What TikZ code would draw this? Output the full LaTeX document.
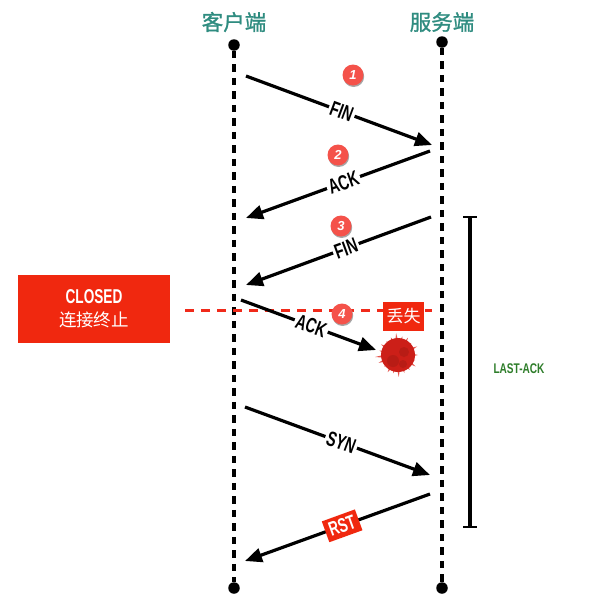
\documentclass[tikz,border=0pt]{standalone}
\usepackage{fontspec}
\usetikzlibrary{arrows.meta,shapes.geometric,calc}
\setmainfont{Liberation Sans}
\newfontfamily\cjkfont[FakeBold=1.2]{Noto Sans CJK SC}
\newfontfamily\cjkplain{Noto Sans CJK SC}
\newcommand{\cond}[3][0.68]{\scalebox{#1}[1]{\fontsize{#2}{#2}\selectfont\bfseries #3}}
\definecolor{tealtitle}{HTML}{2F8C80}
\definecolor{redbox}{HTML}{F0280F}
\definecolor{reddash}{HTML}{F02A1A}
\definecolor{badge}{HTML}{F4524A}
\definecolor{burst}{HTML}{CC1F18}
\definecolor{burstdark}{HTML}{B81C15}
\definecolor{burstedge}{HTML}{E4574F}
\definecolor{lastack}{HTML}{2E7D2A}
\tikzset{
  x=1pt,y=-1pt,
  title/.style={font=\cjkfont\fontsize{21.5}{22}\selectfont,text=tealtitle,inner sep=0pt},
  enddot/.style={circle,fill=black,minimum size=11.5pt,inner sep=0pt},
  life/.style={line width=3.1pt,dash pattern=on 7.5pt off 6pt},
  msg/.style={line width=3.2pt,-{Triangle[length=17pt,width=14pt]}},
  msglabel/.style={fill=white,inner xsep=2pt,inner ysep=1pt,sloped},
  rstlabel/.style={fill=redbox,text=white,inner xsep=4pt,inner ysep=4pt,sloped},
  stepbadge/.style={circle,fill=badge,minimum size=21pt,inner sep=0pt,text=white,font=\itshape\bfseries\fontsize{13}{13}\selectfont},
  badgeshadow/.style={circle,fill=black!35,minimum size=21pt,inner sep=0pt},
  redpanel/.style={fill=redbox,text=white,inner sep=0pt,align=center},
}
\newcommand{\stepmark}[3]{%
  \node[badgeshadow] (s#1) at (#2+0.7,#3+1.5) {};
  \node[stepbadge] (b#1) at (#2,#3) {#1};
}
\begin{document}
\begin{tikzpicture}
\useasboundingbox (0,0) rectangle (589,598);
% titles
\node[title] (tc) at (234,22) {客户端};
\node[title] (ts) at (442,22) {服务端};
% lifelines
\node[enddot] (ct) at (234,45) {};
\node[enddot] (st) at (442,42) {};
\node[enddot] (cb) at (234,588) {};
\node[enddot] (sb) at (442,588) {};
\draw[life] (ct) -- (cb);
\draw[life] (st) -- (sb);
% red dashed line
\coordinate (dl) at (185,310);
\coordinate (dr) at (432,310);
\draw[reddash,line width=3pt,dash pattern=on 9pt off 7pt] (dl) -- (dr);
% message ends
\coordinate (a1) at (246,76);  \coordinate (a2) at (432,145);
\coordinate (b1) at (430,151); \coordinate (b2) at (246,218);
\coordinate (c1) at (431,217); \coordinate (c2) at (246,285);
\coordinate (d1) at (241,300); \coordinate (d2) at (376,350);
\coordinate (e1) at (245,407); \coordinate (e2) at (430,475);
\coordinate (f1) at (430,494); \coordinate (f2) at (245,561);
\draw[msg] (a1) -- node[msglabel,pos=0.515] (l1) {\cond{21}{FIN}} (a2);
\draw[msg] (b1) -- node[msglabel,pos=0.47] (l2) {\cond{21}{ACK}} (b2);
\draw[msg] (c1) -- node[msglabel,pos=0.46] (l3) {\cond{21}{FIN}} (c2);
\draw[msg] (d1) -- node[msglabel,pos=0.52] (l4) {\cond{21}{ACK}} (d2);
\draw[msg] (e1) -- node[msglabel,pos=0.52] (l5) {\cond{21}{SYN}} (e2);
\draw[msg] (f1) -- node[rstlabel,pos=0.475] (l6) {\cond{20}{RST}} (f2);
% badges
\stepmark{1}{353}{75}
\stepmark{2}{338}{155}
\stepmark{3}{341}{226}
\stepmark{4}{342}{314}
% closed box
\node[redpanel,minimum width=152pt,minimum height=68pt] (closed) at (94,309)
  {\cond{20}{CLOSED}\\[7pt]{\cjkplain\fontsize{17.5}{19}\selectfont 连接终止}};
% lost box
\node[redpanel,minimum width=41pt,minimum height=29pt,font=\cjkplain\fontsize{17}{17}\selectfont] (lost) at (403.5,316) {丢失};
% burst
\foreach \i/\r in {0/20,17/18,33/21,52/19,70/19,88/22,105/19,121/20,140/18,158/21,175/23,193/19,212/20,230/18,248/19,265/22,283/19,300/20,318/18,336/21}{
  \fill[burstedge] ($(398,355)+(\i-6:14)$) -- ($(398,355)+(\i:\r)$) -- ($(398,355)+(\i+6:14)$) -- cycle;
}
\node[circle,fill=burst,minimum size=34pt,inner sep=0pt] (drop) at (398,355) {};
\fill[burstdark] (393,361) circle (6pt);
\fill[burstdark] (404,352) circle (5pt);
\fill[burstdark] (403,364) circle (4pt);
% last-ack bracket
\coordinate (bt) at (470,217);
\coordinate (bb) at (470,527);
\draw[line width=3.4pt] (bt) -- (bb);
\draw[line width=2.8pt] (463,217) -- (477,217);
\draw[line width=2.8pt] (463,527) -- (477,527);
\node[text=lastack,inner sep=0pt] (la) at (519,369) {\cond[0.72]{14}{LAST-ACK}};
\end{tikzpicture}
\end{document}
